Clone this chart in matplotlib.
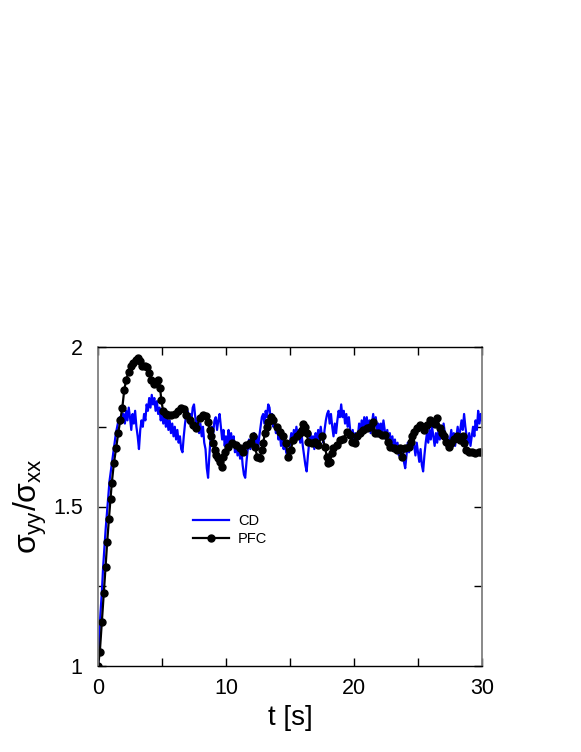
import numpy as np
import matplotlib
matplotlib.use('Agg')
import matplotlib.pyplot as plt

plt.rcParams['font.family'] = ['Liberation Sans', 'DejaVu Sans']
plt.rcParams['mathtext.fontset'] = 'custom'
plt.rcParams['mathtext.rm'] = 'Liberation Sans'
plt.rcParams['mathtext.it'] = 'Liberation Sans'

# CD curve, sampled every 0.1 s from t = 0 to 30
cd_step = 0.1
cd_y = [
    1.00, 1.10, 1.17, 1.23, 1.31, 1.37, 1.43, 1.48, 1.53, 1.58,
    1.61, 1.64, 1.67, 1.70, 1.73, 1.75, 1.77, 1.78, 1.76, 1.79,
    1.79, 1.76, 1.80, 1.77, 1.81, 1.78, 1.74, 1.79, 1.76, 1.80,
    1.75, 1.72, 1.68, 1.74, 1.77, 1.75, 1.79, 1.77, 1.82, 1.80,
    1.84, 1.81, 1.85, 1.82, 1.84, 1.80, 1.83, 1.79, 1.81, 1.77,
    1.79, 1.76, 1.79, 1.75, 1.78, 1.74, 1.77, 1.73, 1.76, 1.72,
    1.75, 1.71, 1.74, 1.70, 1.72, 1.68, 1.67, 1.72, 1.76, 1.79,
    1.80, 1.76, 1.79, 1.77, 1.81, 1.82, 1.78, 1.75, 1.77, 1.73,
    1.76, 1.72, 1.75, 1.70, 1.68, 1.62, 1.59, 1.66, 1.72, 1.75,
    1.73, 1.77, 1.78, 1.74, 1.77, 1.79, 1.75, 1.71, 1.74, 1.69,
    1.72, 1.68, 1.74, 1.70, 1.73, 1.69, 1.72, 1.67, 1.70, 1.66,
    1.69, 1.65, 1.68, 1.63, 1.60, 1.59, 1.64, 1.68, 1.71, 1.68,
    1.72, 1.69, 1.73, 1.70, 1.72, 1.68, 1.72, 1.75, 1.78, 1.79,
    1.76, 1.80, 1.78, 1.82, 1.81, 1.77, 1.79, 1.75, 1.77, 1.73,
    1.75, 1.71, 1.73, 1.69, 1.72, 1.68, 1.70, 1.67, 1.66, 1.65,
    1.70, 1.73, 1.70, 1.74, 1.71, 1.75, 1.72, 1.74, 1.70, 1.73,
    1.69, 1.66, 1.63, 1.61, 1.66, 1.70, 1.73, 1.69, 1.72, 1.68,
    1.73, 1.70, 1.74, 1.71, 1.75, 1.72, 1.70, 1.74, 1.77, 1.79,
    1.80, 1.76, 1.79, 1.75, 1.72, 1.76, 1.73, 1.77, 1.80, 1.78,
    1.82, 1.78, 1.80, 1.76, 1.79, 1.75, 1.78, 1.74, 1.71, 1.74,
    1.70, 1.73, 1.69, 1.72, 1.76, 1.73, 1.77, 1.74, 1.78, 1.75,
    1.78, 1.74, 1.77, 1.73, 1.76, 1.79, 1.75, 1.78, 1.74, 1.76,
    1.72, 1.76, 1.73, 1.77, 1.74, 1.71, 1.74, 1.70, 1.73, 1.69,
    1.72, 1.68, 1.71, 1.67, 1.70, 1.66, 1.69, 1.65, 1.68, 1.64,
    1.62, 1.66, 1.70, 1.67, 1.71, 1.68, 1.72, 1.69, 1.66, 1.70,
    1.67, 1.64, 1.68, 1.63, 1.61, 1.66, 1.70, 1.73, 1.70, 1.74,
    1.71, 1.75, 1.72, 1.69, 1.73, 1.70, 1.74, 1.71, 1.75, 1.72,
    1.76, 1.73, 1.69, 1.72, 1.68, 1.71, 1.74, 1.70, 1.73, 1.69,
    1.72, 1.75, 1.71, 1.74, 1.77, 1.74, 1.79, 1.75, 1.72, 1.70,
    1.73, 1.69, 1.72, 1.75, 1.72, 1.77, 1.74, 1.80, 1.76, 1.79,
    1.77,
]
cd_t = np.arange(len(cd_y)) * cd_step

# PFC curve (t [s], ratio)
pfc_points = [
    (0.0, 1.0), (0.14, 1.043), (0.30, 1.137), (0.45, 1.228), (0.59, 1.31),
    (0.72, 1.39), (0.85, 1.46), (0.98, 1.525), (1.08, 1.575), (1.24, 1.635),
    (1.42, 1.684), (1.58, 1.73), (1.74, 1.77), (1.9, 1.81), (2.05, 1.865),
    (2.2, 1.897), (2.39, 1.923), (2.55, 1.94), (2.73, 1.95), (2.94, 1.96),
    (3.15, 1.965), (3.3, 1.957), (3.46, 1.94), (3.67, 1.94), (3.82, 1.937),
    (4.0, 1.918), (4.16, 1.897), (4.37, 1.884), (4.55, 1.888), (4.71, 1.897),
    (4.85, 1.87), (4.95, 1.834), (5.08, 1.80), (5.28, 1.79), (5.47, 1.787),
    (5.73, 1.786), (6.0, 1.79), (6.25, 1.80), (6.46, 1.81), (6.7, 1.805),
    (6.9, 1.787), (7.17, 1.77), (7.43, 1.755), (7.69, 1.745), (7.95, 1.777),
    (8.2, 1.787), (8.46, 1.785), (8.6, 1.766), (8.73, 1.74), (8.86, 1.72),
    (9.0, 1.698), (9.12, 1.677), (9.25, 1.66), (9.38, 1.651), (9.57, 1.64),
    (9.65, 1.625), (9.77, 1.656), (9.9, 1.672), (10.17, 1.687), (10.43, 1.698),
    (10.82, 1.693), (11.08, 1.682), (11.34, 1.672), (11.6, 1.693), (11.86, 1.698),
    (12.12, 1.72), (12.26, 1.687), (12.44, 1.656), (12.65, 1.651), (12.78, 1.677),
    (12.9, 1.698), (13.04, 1.73), (13.17, 1.75), (13.3, 1.766), (13.48, 1.78),
    (13.7, 1.77), (13.96, 1.75), (14.21, 1.734), (14.47, 1.72), (14.68, 1.698),
    (14.86, 1.656), (15.04, 1.677), (15.26, 1.708), (15.52, 1.72), (15.75, 1.73),
    (15.9, 1.74), (16.04, 1.76), (16.17, 1.75), (16.3, 1.73), (16.43, 1.703),
    (16.7, 1.698), (16.95, 1.703), (17.21, 1.693), (17.48, 1.72), (17.74, 1.687),
    (17.87, 1.656), (18.0, 1.635), (18.13, 1.64), (18.26, 1.667), (18.39, 1.682),
    (18.65, 1.693), (18.91, 1.708), (19.17, 1.713), (19.43, 1.734), (19.65, 1.725),
    (19.83, 1.703), (20.04, 1.698), (20.22, 1.72), (20.48, 1.73), (20.74, 1.74),
    (21.0, 1.745), (21.26, 1.75), (21.52, 1.766), (21.65, 1.73), (21.91, 1.73),
    (22.17, 1.724), (22.43, 1.724), (22.64, 1.703), (22.83, 1.687), (23.09, 1.682),
    (23.35, 1.677), (23.6, 1.682), (23.74, 1.656), (24.0, 1.682), (24.26, 1.687),
    (24.45, 1.703), (24.53, 1.72), (24.71, 1.734), (24.92, 1.745), (25.18, 1.755),
    (25.43, 1.74), (25.7, 1.755), (25.9, 1.77), (26.09, 1.766), (26.3, 1.76),
    (26.48, 1.776), (26.74, 1.745), (26.87, 1.73), (27.0, 1.72), (27.21, 1.703),
    (27.39, 1.687), (27.6, 1.70), (27.78, 1.713), (28.05, 1.72), (28.31, 1.708),
    (28.52, 1.72), (28.62, 1.698), (28.78, 1.677), (28.96, 1.672), (29.22, 1.672),
    (29.48, 1.667), (29.74, 1.672), (29.96, 1.672),
]
pfc_t = [p[0] for p in pfc_points]
pfc_y = [p[1] for p in pfc_points]

x_ticks = [0, 5, 10, 15, 20, 25, 30]
x_labels = ['0', '', '10', '', '20', '', '30']
y_ticks = [1, 1.25, 1.5, 1.75, 2]
y_labels = ['1', '', '1.5', '', '2']

fig = plt.figure(figsize=(5.81, 7.52), dpi=100)
ax = fig.add_axes([98 / 581, 86 / 752, 384 / 581, 319 / 752])

ax.plot(cd_t, cd_y, color='#0000ff', linewidth=1.6, label='CD')
ax.plot(pfc_t, pfc_y, color='black', linewidth=1.6, marker='o',
        markersize=5, label='PFC')

ax.set_xlim(0, 30)
ax.set_ylim(1, 2)
ax.set_xticks(x_ticks)
ax.set_xticklabels(x_labels)
ax.set_yticks(y_ticks)
ax.set_yticklabels(y_labels)
ax.tick_params(direction='in', length=6, width=1.0, top=True, right=True,
               labelsize=15.5, color='black')
ax.tick_params(axis='x', pad=9)
ax.tick_params(axis='y', pad=11)

for side in ['top', 'bottom']:
    ax.spines[side].set_linewidth(1.0)
    ax.spines[side].set_color('black')
for side in ['left', 'right']:
    ax.spines[side].set_linewidth(1.3)
    ax.spines[side].set_color('#808080')

ax.set_xlabel('t [s]', fontsize=20, labelpad=4)
ax.set_ylabel(r'$\sigma_{yy}/\sigma_{xx}$', fontsize=23, labelpad=3)

ax.legend(loc='upper left', bbox_to_anchor=(0.247, 0.475), frameon=False,
          fontsize=10.5, handlelength=2.5, handletextpad=0.6, labelspacing=0.25,
          borderpad=0, borderaxespad=0)

fig.savefig('out.png', dpi=100)
